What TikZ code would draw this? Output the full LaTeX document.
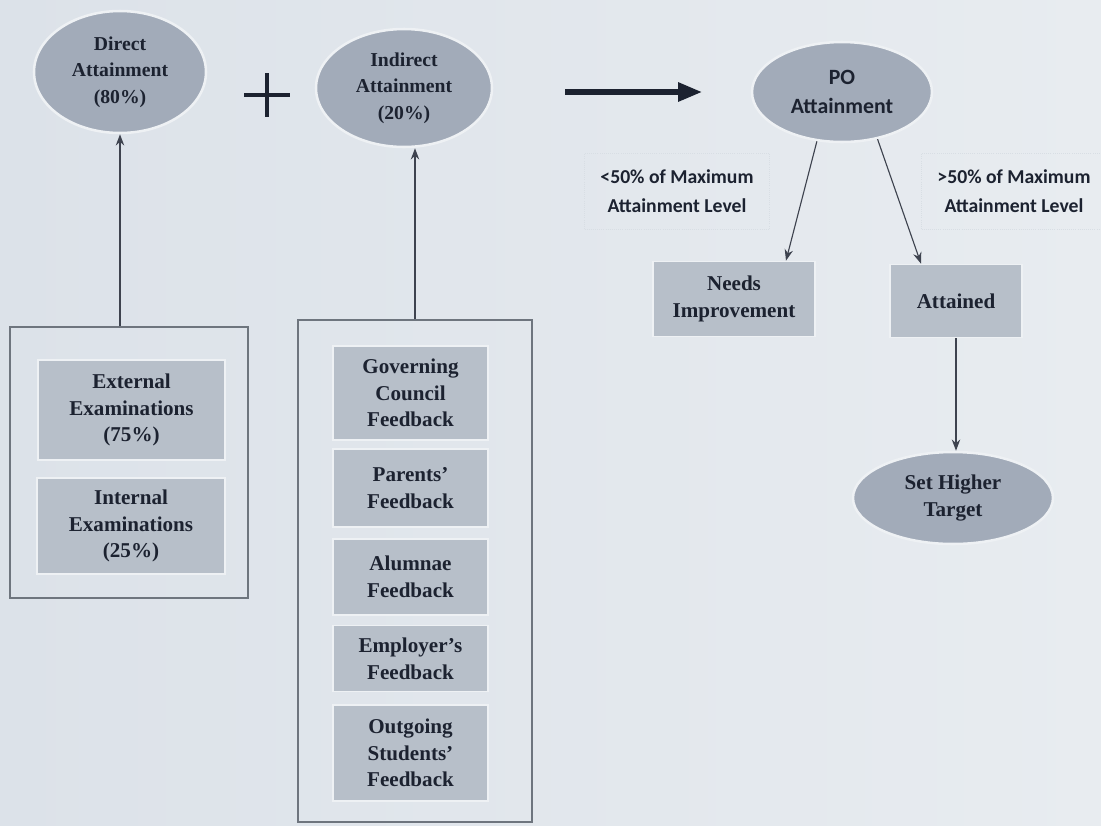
\documentclass[tikz,border=0pt]{standalone}
\usepackage{fontspec}
\setmainfont{Liberation Serif}
\newfontfamily\calfont{Carlito}
\usetikzlibrary{shapes.geometric,arrows.meta}
\definecolor{bgA}{HTML}{DCE2E9}
\definecolor{bgB}{HTML}{E8ECF0}
\definecolor{ellfill}{HTML}{A2ABB9}
\definecolor{boxfill}{HTML}{B7BFC9}
\definecolor{halo}{HTML}{EEF1F4}
\definecolor{ink}{HTML}{1C2230}
\definecolor{frame}{HTML}{6E757E}
\definecolor{faint}{HTML}{D8DEE4}
\def\P{0.025cm}
\tikzset{
  ell/.style={ellipse, fill=ellfill, draw=halo, line width=1.8pt, inner sep=0pt,
    align=center, text=ink, font=\fontsize{14}{19}\selectfont\bfseries},
  gbox/.style={rectangle, fill=boxfill, draw=halo, line width=1.2pt, inner sep=0pt,
    align=center, text=ink, font=\fontsize{15}{19}\selectfont\bfseries},
  outer/.style={rectangle, draw=frame, line width=0.8pt, inner sep=0pt},
  lbl/.style={rectangle, draw=faint, densely dotted, line width=0.5pt, inner sep=4pt, align=center,
    minimum width=185*\P, minimum height=76*\P,
    text=ink, font=\calfont\fontsize{14}{21}\selectfont\bfseries},
  conn/.style={draw=ink!85, line width=0.8pt, -{Stealth[length=8pt,width=6pt]}},
}
\begin{document}
\begin{tikzpicture}[x=0.025cm,y=-0.025cm]
\useasboundingbox (0,0) rectangle (1101,825);
\shade[left color=bgA, right color=bgB] (0,0) rectangle (1101,825);

% top ellipses
\node[ell, minimum width=172*\P, minimum height=122*\P] (dir) at (120,72) {Direct\\Attainment\\(80\%)};
\node[ell, minimum width=176*\P, minimum height=118*\P] (ind) at (404,88) {Indirect\\Attainment\\(20\%)};
\node[ell, minimum width=180*\P, minimum height=100*\P, font=\calfont\fontsize{15.5}{21}\selectfont\bfseries] (po) at (842,92) {PO\\Attainment};

% plus sign
\draw[ink, line width=3pt] (244,95) -- (290,95) (267,73) -- (267,117);

% big arrow
\coordinate (ba1) at (565,92);
\coordinate (ba2) at (702,92);
\draw[ink, line width=3.6pt, -{Triangle[length=17pt,width=13pt]}] (ba1) -- (ba2);

% left group
\node[outer, minimum width=238*\P, minimum height=271*\P] (lo) at (129,462.5) {};
\node[gbox, minimum width=187*\P, minimum height=100*\P] (ext) at (131.5,410) {External\\Examinations\\(75\%)};
\node[gbox, minimum width=188*\P, minimum height=96*\P] (intl) at (131,526) {Internal\\Examinations\\(25\%)};
\draw[conn] (lo.north -| dir.south) -- (dir.south);

% middle group
\node[outer, minimum width=234*\P, minimum height=502*\P] (ro) at (415,571) {};
\node[gbox, minimum width=155*\P, minimum height=94*\P] (gov) at (410.5,393) {Governing\\Council\\Feedback};
\node[gbox, minimum width=155*\P, minimum height=78*\P] (par) at (410.5,488) {Parents'\\Feedback};
\node[gbox, minimum width=155*\P, minimum height=76*\P] (alu) at (410.5,577) {Alumnae\\Feedback};
\node[gbox, minimum width=155*\P, minimum height=66*\P] (emp) at (410.5,658.5) {Employer's\\Feedback};
\node[gbox, minimum width=155*\P, minimum height=96*\P] (out) at (410.5,753) {Outgoing\\Students'\\Feedback};
\draw[conn] (ro.north) -- (ro.north |- ind.south);

% right part
\node[lbl] (l1) at (677,191) {<50\% of Maximum\\Attainment Level};
\node[lbl] (l2) at (1014,191) {>50\% of Maximum\\Attainment Level};
\node[gbox, minimum width=162*\P, minimum height=75*\P] (ni) at (734,299) {Needs\\Improvement};
\node[gbox, minimum width=132*\P, minimum height=73*\P] (att) at (956,301) {Attained};
\node[ell, minimum width=200*\P, minimum height=92*\P, font=\fontsize{15}{19}\selectfont\bfseries] (sht) at (953,498) {Set Higher\\Target};

\draw[conn] (po.243) -- ([xshift=52*\P]ni.north);
\draw[conn] (po.307) -- ([xshift=-35*\P]att.north);
\draw[conn] (att.south) -- (att.south |- sht.north);
\end{tikzpicture}
\end{document}
